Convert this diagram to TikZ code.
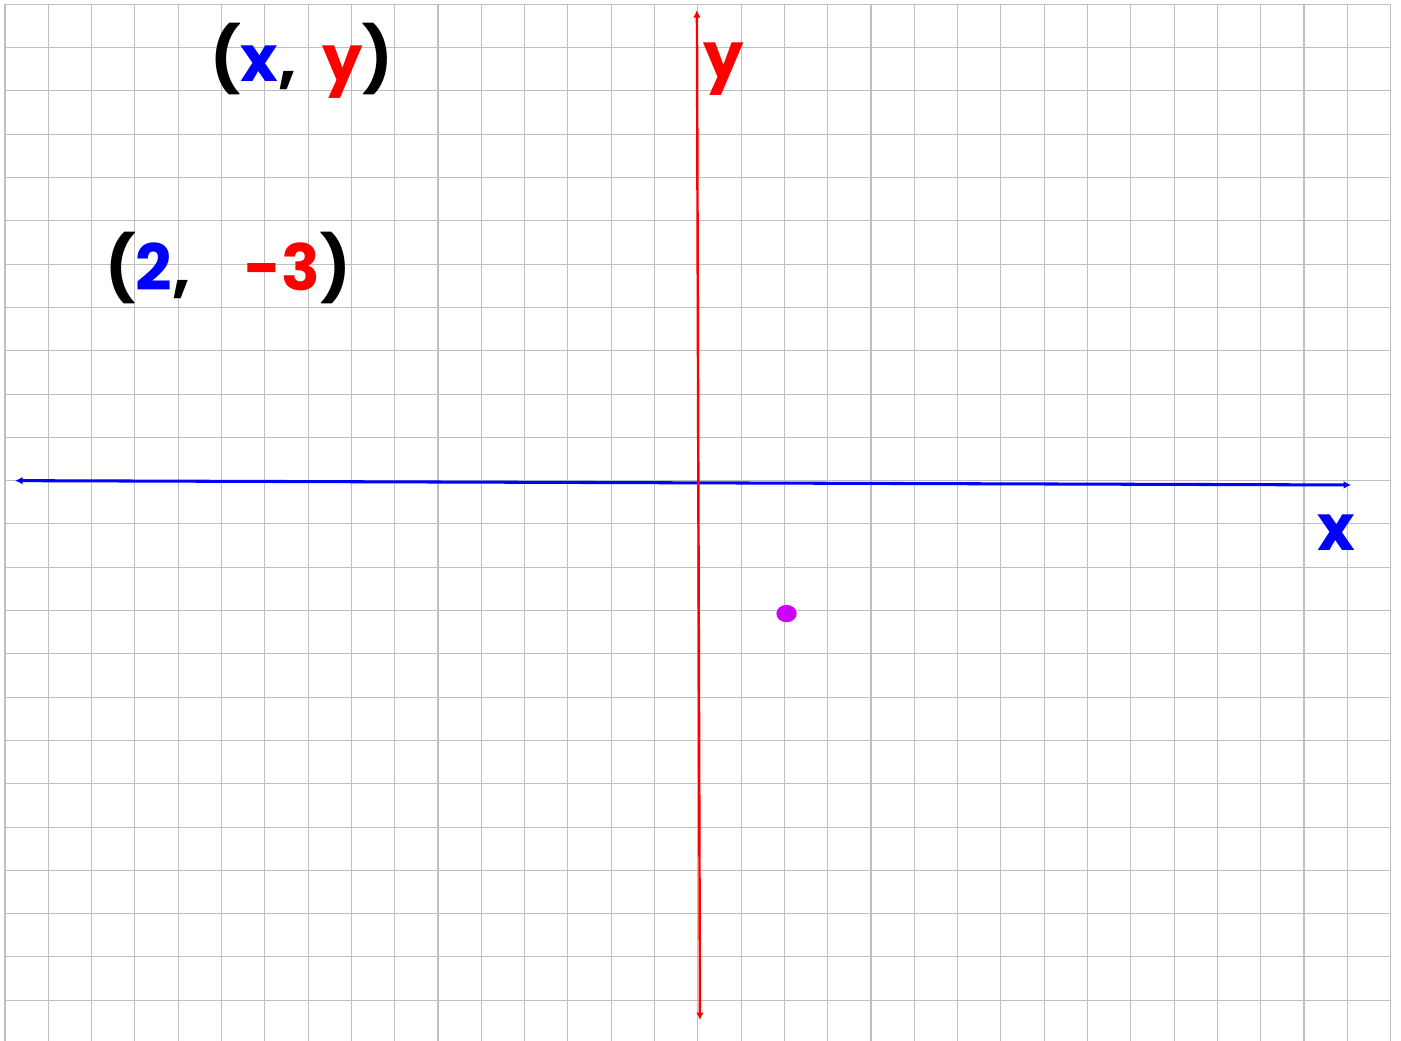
\documentclass[tikz,border=0pt]{standalone}
\usepackage{fontspec}
\setmainfont{Poppins}
\usepackage{xcolor}
\usepackage{tikz}
\usetikzlibrary{arrows.meta, shapes.geometric}
\definecolor{ptpurple}{RGB}{204,0,255}
\tikzset{
  gridline/.style={draw=black!25, line width=0.7pt},
  xaxis/.style={{Latex[length=5pt,width=5pt]}-{Latex[length=5pt,width=5pt]}, draw=blue, line width=2pt},
  yaxis/.style={{Latex[length=5pt,width=5pt]}-{Latex[length=5pt,width=5pt]}, draw=red, line width=1.6pt},
  bigtxt/.style={font=\fontsize{42}{50}\selectfont\bfseries, inner sep=0pt},
  dot/.style={ellipse, fill=ptpurple, minimum width=0.47cm, minimum height=0.4cm, inner sep=0pt},
}

\begin{document}
\begin{tikzpicture}[scale=1]
\useasboundingbox (-16.115,-12.94) rectangle (16.24,11.1);
\draw[gridline] (-16,-12.94) grid (16,11);
% axes
\coordinate (xleft) at (-15.77,0);
\coordinate (xright) at (15.09,-0.1);
\coordinate (ytop) at (-0.02,10.87);
\coordinate (ybot) at (0.05,-12.46);
\draw[xaxis] (xleft) -- (xright);
\draw[yaxis] (ybot) -- (ytop);
\node[bigtxt, text=red] (ylbl) at (0.6,9.5) {y};
\node[bigtxt, text=blue] (xlbl) at (14.74,-1.2) {x};
% ordered pairs
\node[bigtxt] (pair) at (-9.15,9.7) {(\textcolor{blue}{x},\hspace{0.4em}\textcolor{red}{y})};
\node[bigtxt] (point) at (-10.85,4.9) {(\textcolor{blue}{2},\hspace{0.85em}\textcolor{red}{-3})};
\node[dot] (pt) at (2.05,-3.07) {};
\end{tikzpicture}
\end{document}
